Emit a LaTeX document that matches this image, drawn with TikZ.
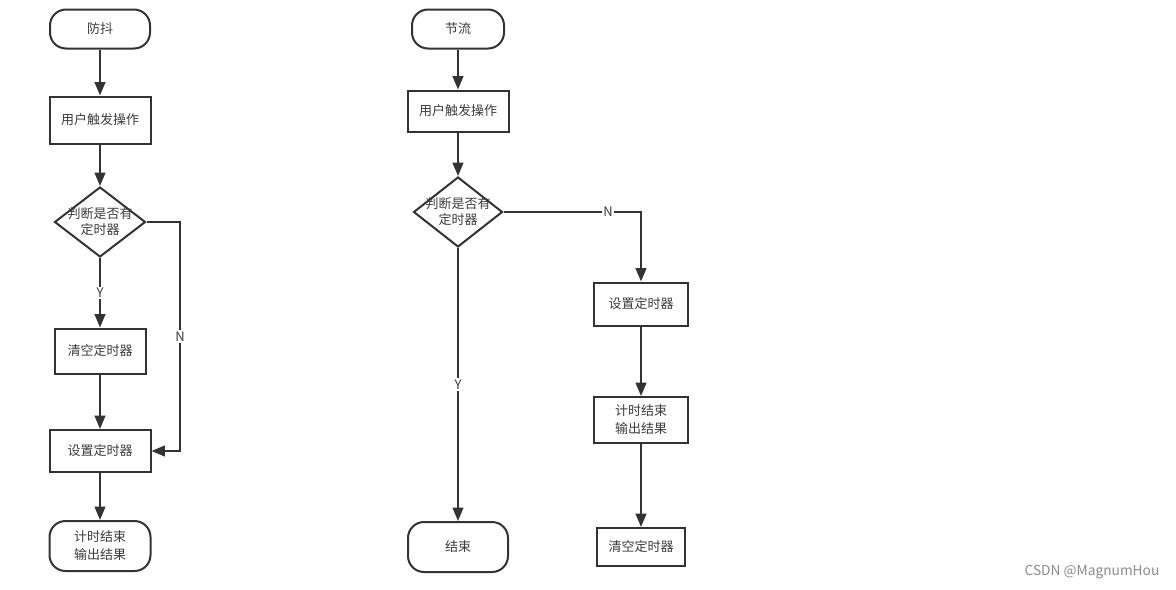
\documentclass[tikz,border=0pt]{standalone}
\usepackage{fontspec}
\setmainfont{Noto Sans CJK SC}
\usepackage{xcolor}
\definecolor{linegray}{RGB}{51, 51, 51}
\definecolor{textgray}{RGB}{60, 60, 60}
\definecolor{markgray}{RGB}{140, 140, 140}
\usetikzlibrary{arrows.meta, shapes.geometric}

\begin{document}
\begin{tikzpicture}[x=0.75pt, y=-0.75pt, >={Triangle[length=10pt, width=8pt]},
    every node/.style={font=\fontsize{9.75}{13.5}\selectfont, text=textgray},
    flowline/.style={line width=1.5pt, draw=linegray},
    stepbox/.style={rectangle, draw=linegray, line width=1.5pt, inner sep=0pt, align=center},
    pillbox/.style={stepbox, rounded corners=12pt},
    choice/.style={diamond, draw=linegray, line width=1.5pt, inner sep=0pt},
    branch/.style={fill=white, inner sep=1pt}]
    \useasboundingbox (0, 0) rectangle (1176, 589);

    % debounce
    \node[pillbox, minimum width=75pt, minimum height=29.25pt] (start1) at (100, 29) {防抖};
    \node[stepbox, minimum width=75.75pt, minimum height=35.25pt] (trig1) at (100, 120) {用户触发操作};
    \node[choice, minimum width=68.25pt, minimum height=52.5pt,
          label={[align=center, font=\fontsize{9.75}{12}\selectfont]center:判断是否有\\定时器}] (dec1) at (100, 222) {};
    \node[stepbox, minimum width=68.25pt, minimum height=33.75pt] (clear1) at (100, 351) {清空定时器};
    \node[stepbox, minimum width=75.75pt, minimum height=31.5pt] (set1) at (100, 451) {设置定时器};
    \node[pillbox, minimum width=75.75pt, minimum height=37.5pt] (end1) at (100, 546) {计时结束\\输出结果};
    \coordinate (nturn1) at (180, 222);

    \draw[flowline, ->] (start1) -- (trig1);
    \draw[flowline, ->] (trig1) -- (dec1);
    \draw[flowline, ->] (dec1) -- node[branch] {Y} (clear1);
    \draw[flowline, ->] (clear1) -- (set1);
    \draw[flowline, ->] (dec1.east) -- (nturn1) |- node[branch, pos=0.25] {N} (set1.east);
    \draw[flowline, ->] (set1) -- (end1);

    % throttle
    \node[pillbox, minimum width=69pt, minimum height=29.25pt] (start2) at (458, 29) {节流};
    \node[stepbox, minimum width=75.75pt, minimum height=30.75pt] (trig2) at (458, 111) {用户触发操作};
    \node[choice, minimum width=66.75pt, minimum height=52.5pt,
          label={[align=center, font=\fontsize{9.75}{12}\selectfont]center:判断是否有\\定时器}] (dec2) at (458, 212) {};
    \node[pillbox, minimum width=75pt, minimum height=37.5pt] (end2) at (458, 547) {结束};
    \node[stepbox, minimum width=70.5pt, minimum height=32.25pt] (set2) at (641, 304) {设置定时器};
    \node[stepbox, minimum width=70.5pt, minimum height=34.5pt] (out2) at (641, 420) {计时结束\\输出结果};
    \node[stepbox, minimum width=66pt, minimum height=28.5pt] (clear2) at (641, 547) {清空定时器};

    \draw[flowline, ->] (start2) -- (trig2);
    \draw[flowline, ->] (trig2) -- (dec2);
    \draw[flowline, ->] (dec2) -- node[branch] {Y} (end2);
    \draw[flowline, ->] (dec2.east) -| node[branch, pos=0.38] {N} (set2.north);
    \draw[flowline, ->] (set2) -- (out2);
    \draw[flowline, ->] (out2) -- (clear2);

    \node[text=markgray, font=\fontsize{10.3}{12}\selectfont] (mark) at (1092, 572) {CSDN @MagnumHou};
\end{tikzpicture}
\end{document}
